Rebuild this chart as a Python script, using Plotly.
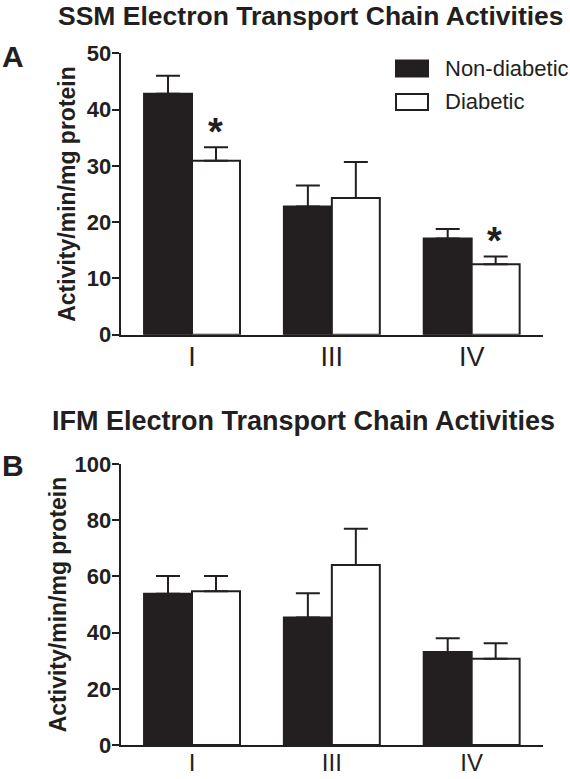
import plotly.graph_objects as go

# ---------------- data ----------------
categories = ["I", "III", "IV"]
series_names = ["Non-diabetic", "Diabetic"]

ssm_nondiabetic = [42.8, 22.8, 17.1]
ssm_nondiabetic_err = [3.2, 3.7, 1.7]
ssm_diabetic = [30.9, 24.3, 12.5]
ssm_diabetic_err = [2.4, 6.4, 1.4]
ssm_significant = [True, False, True]

ifm_nondiabetic = [53.8, 45.4, 33.1]
ifm_nondiabetic_err = [6.3, 8.6, 4.9]
ifm_diabetic = [54.7, 64.1, 30.7]
ifm_diabetic_err = [5.4, 12.9, 5.5]
ifm_significant = [False, False, False]

panel_titles = ["SSM Electron Transport Chain Activities",
                "IFM Electron Transport Chain Activities"]
panel_letters = ["A", "B"]
y_title = "Activity/min/mg protein"
ssm_ticks = [0, 10, 20, 30, 40, 50]
ifm_ticks = [0, 20, 40, 60, 80, 100]

# ---------------- style ----------------
W, H = 570, 779
DARK = "#231f20"
FONT = "Liberation Sans, Arial, sans-serif"


def px_x(p):
    return p / W


def px_y(p):
    return 1 - p / H


fig = go.Figure()

panels = [
    dict(nd=ssm_nondiabetic, nde=ssm_nondiabetic_err, d=ssm_diabetic, de=ssm_diabetic_err,
         sig=ssm_significant, xa="x", ya="y"),
    dict(nd=ifm_nondiabetic, nde=ifm_nondiabetic_err, d=ifm_diabetic, de=ifm_diabetic_err,
         sig=ifm_significant, xa="x2", ya="y2"),
]

for p in panels:
    fig.add_trace(go.Bar(
        x=categories, y=p["nd"], name=series_names[0], xaxis=p["xa"], yaxis=p["ya"],
        marker=dict(color=DARK, line=dict(color=DARK, width=2)),
        error_y=dict(type="data", array=p["nde"], arrayminus=[0] * len(categories),
                     symmetric=False, color=DARK, thickness=2, width=12),
        showlegend=False,
    ))
    fig.add_trace(go.Bar(
        x=categories, y=p["d"], name=series_names[1], xaxis=p["xa"], yaxis=p["ya"],
        marker=dict(color="white", line=dict(color=DARK, width=2)),
        error_y=dict(type="data", array=p["de"], arrayminus=[0] * len(categories),
                     symmetric=False, color=DARK, thickness=2, width=12),
        showlegend=False,
    ))

annotations = []
# significance asterisks
for p in panels:
    for i, c in enumerate(categories):
        if p["sig"][i]:
            annotations.append(dict(
                x=c, y=p["d"][i] + p["de"][i], xref=p["xa"], yref=p["ya"],
                text="<b>*</b>", showarrow=False, xshift=23, yshift=-8,
                yanchor="bottom", font=dict(family=FONT, size=38, color=DARK)))

# panel titles and letters
annotations += [
    dict(x=px_x(311), y=px_y(15.5), xref="paper", yref="paper", text=f"<b>{panel_titles[0]}</b>",
         showarrow=False, xanchor="center", yanchor="middle",
         font=dict(family=FONT, size=26.5, color=DARK)),
    dict(x=px_x(303), y=px_y(421), xref="paper", yref="paper", text=f"<b>{panel_titles[1]}</b>",
         showarrow=False, xanchor="center", yanchor="middle",
         font=dict(family=FONT, size=27, color=DARK)),
    dict(x=px_x(13), y=px_y(57), xref="paper", yref="paper", text=f"<b>{panel_letters[0]}</b>",
         showarrow=False, xanchor="center", yanchor="middle",
         font=dict(family=FONT, size=30, color=DARK)),
    dict(x=px_x(13), y=px_y(466), xref="paper", yref="paper", text=f"<b>{panel_letters[1]}</b>",
         showarrow=False, xanchor="center", yanchor="middle",
         font=dict(family=FONT, size=30, color=DARK)),
]

# legend (drawn)
legend_rows = [(series_names[0], DARK, 68.5), (series_names[1], "white", 102)]
shapes = []
for name, fill, yc in legend_rows:
    shapes.append(dict(type="rect", xref="paper", yref="paper",
                       x0=px_x(396), x1=px_x(428), y0=px_y(yc - 8), y1=px_y(yc + 8),
                       fillcolor=fill, line=dict(color=DARK, width=2)))
    annotations.append(dict(x=px_x(443), y=px_y(yc), xref="paper", yref="paper", text=name,
                            showarrow=False, xanchor="left", yanchor="middle",
                            font=dict(family=FONT, size=22, color=DARK)))

x_dom = [px_x(120.7), px_x(543)]
common_x = dict(domain=x_dom, range=[-0.51, 2.51], showline=True, linecolor=DARK, linewidth=2,
                ticks="", showgrid=False, zeroline=False, fixedrange=True, automargin=False)
common_y = dict(showline=True, linecolor=DARK, linewidth=2, ticks="outside", ticklen=7,
                tickwidth=2, tickcolor=DARK, showgrid=False, zeroline=False, automargin=False,
                fixedrange=True, ticklabelstandoff=-4,
                tickfont=dict(family=FONT, size=22, color=DARK, weight="bold"))


def y_title_dict(standoff):
    return dict(text=y_title, standoff=standoff,
                font=dict(family=FONT, size=23, color=DARK, weight="bold"))


fig.update_layout(
    template="none",
    width=W, height=H, autosize=False,
    margin=dict(l=0, r=0, t=0, b=0, pad=0),
    paper_bgcolor="white", plot_bgcolor="white",
    barmode="group", bargap=0.314, bargroupgap=0,
    xaxis=dict(**common_x, anchor="y", ticklabelstandoff=-3,
               tickfont=dict(family=FONT, size=27, color=DARK)),
    yaxis=dict(**common_y, anchor="x", domain=[px_y(334.7), px_y(53.3)], range=[0, 50],
               tickvals=ssm_ticks, title=y_title_dict(5)),
    xaxis2=dict(**common_x, anchor="y2", ticklabelstandoff=-5,
                tickfont=dict(family=FONT, size=24, color=DARK)),
    yaxis2=dict(**common_y, anchor="x2", domain=[px_y(745), px_y(464)], range=[0, 100],
                tickvals=ifm_ticks, title=y_title_dict(2)),
    annotations=annotations,
    shapes=shapes,
)

fig.write_html("out.html", config={"displayModeBar": False},
               post_script="document.body.style.margin='0px';document.body.style.padding='0px';")
